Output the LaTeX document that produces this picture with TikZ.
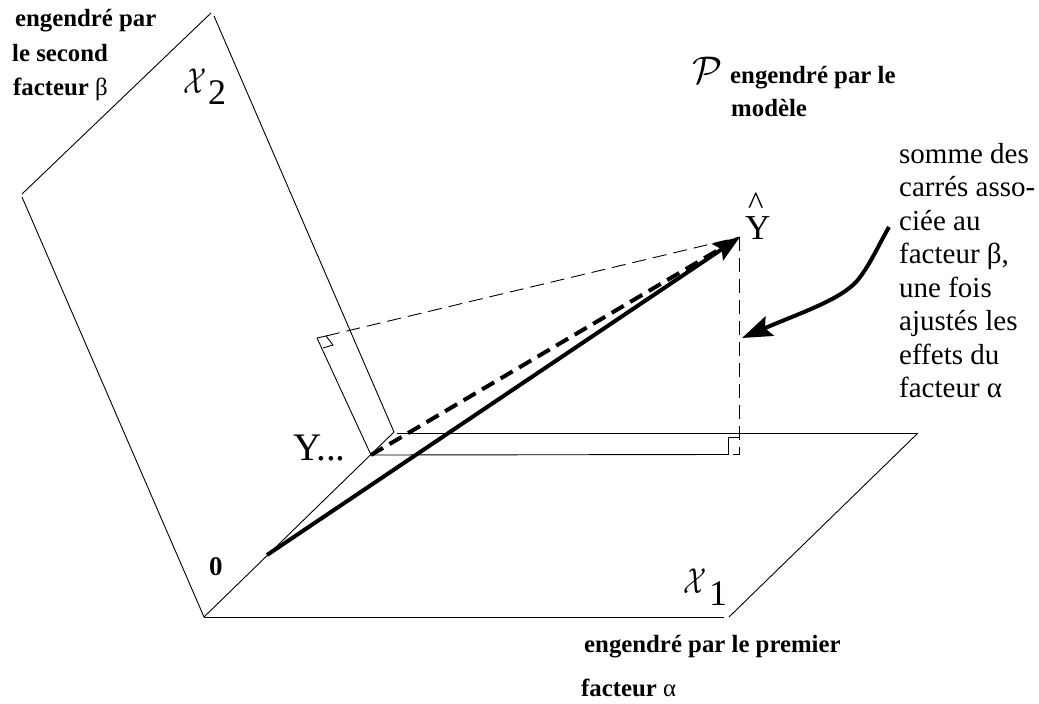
\documentclass[tikz,border=0pt]{standalone}
\usepackage{fontspec}
\setmainfont{Liberation Serif}
\usetikzlibrary{arrows.meta}
\newcommand{\ga}{\textnormal{α}}
\newcommand{\gb}{\textnormal{β}}
\newcommand{\calX}{\scalebox{1.08}[1.45]{$\mathcal{X}$}}
\newcommand{\calP}{\scalebox{1.55}{$\mathcal{P}$}}
\tikzset{
  thinl/.style={line width=0.9pt,black},
  thindash/.style={line width=0.9pt,dash pattern=on 14pt off 7pt},
  thickl/.style={line width=4pt,-{Stealth[length=27pt,width=20pt,inset=5pt]}},
  thickdash/.style={line width=4pt,dash pattern=on 14pt off 7.5pt},
  curvel/.style={line width=4pt,-{Stealth[length=30pt,width=21pt,inset=5pt]}},
  bold/.style={font=\fontsize{24.8}{28}\selectfont\bfseries,anchor=base west,inner sep=0pt},
  zerolab/.style={font=\fontsize{27}{28}\selectfont\bfseries,anchor=base west,inner sep=0pt},
  body/.style={font=\fontsize{29}{33.5}\selectfont,anchor=base west,inner sep=0pt,align=left},
  sym/.style={anchor=base west,inner sep=0pt,font=\fontsize{24.88}{30}\selectfont},
  digit/.style={anchor=base west,inner sep=0pt,font=\fontsize{36}{36}\selectfont},
  ylab/.style={anchor=base west,inner sep=0pt,font=\fontsize{39}{39}\selectfont},
  yhatlab/.style={anchor=base west,inner sep=0pt,font=\fontsize{35}{35}\selectfont}
}
\begin{document}
\begin{tikzpicture}[x=1pt,y=-1pt]
\useasboundingbox (0,0) rectangle (1039,704);
% plane corners
\coordinate (O) at (204,617);
\coordinate (Xone) at (724,617);
\coordinate (Xoneb) at (729,617);
\coordinate (Bb) at (918,433);
\coordinate (Bc) at (397,433);
\coordinate (Ba) at (394,432);
\coordinate (La) at (22,197);
\coordinate (Lb) at (22,194);
\coordinate (Ta) at (211,13);
\coordinate (Tb) at (214,16);
\coordinate (Ybar) at (371,455);
\coordinate (Foot) at (317,338);
\coordinate (Fa) at (326,336);
\coordinate (Fb) at (333,345);
\coordinate (Fc) at (323,348);
\coordinate (Yh) at (740,237);
\coordinate (Vt) at (739.5,237);
\coordinate (Vb) at (739.5,454.5);
\coordinate (Ha) at (728,454.5);
\coordinate (Hb) at (728,437);
\coordinate (Hc) at (739.5,437);
\coordinate (Start) at (267,555);
\coordinate (Yd) at (730,243);
\coordinate (Ca) at (889,227);
\coordinate (Cb) at (742,338);
% planes
\draw[thinl] (O) -- (Xone);
\draw[thinl] (Xoneb) -- (Bb);
\draw[thinl] (Bb) -- (Bc);
\draw[thinl] (O) -- (Ba);
\draw[thinl] (O) -- (La);
\draw[thinl] (Lb) -- (Ta);
\draw[thinl] (Tb) -- (Ba);
% projections
\draw[thinl] (Ybar) -- (Ha);
\draw[thinl] (Ybar) -- (Foot);
\draw[thinl] (Foot) -- (Fa) -- (Fb) -- (Fc);
\draw[thinl] (Ha) -- (Hb) -- (Hc);
\draw[thindash] (Fa) -- (Yh);
\draw[thindash] (Vt) -- (Vb) -- (Ha);
% vectors
\draw[thickl] (Start) -- (Yh);
\draw[thickdash] (Ybar) -- (Yd);
\draw[curvel]
  (Ca) .. controls (877,248) and (870,265) .. (857,281)
       .. controls (840,300) and (800,313) .. (Cb);
% labels
\node[bold] (lb1) at (15,26) {engendré par};
\node[bold] (lb2) at (12,61) {le second};
\node[bold] (lb3) at (13,95) {facteur \gb};
\node[bold] (lp1) at (730,83) {engendré par le};
\node[bold] (lp2) at (731,116) {modèle};
\node[bold] (la1) at (584,652) {engendré par le premier};
\node[bold] (la2) at (581,696) {facteur \ga};
\node[zerolab] (zero) at (209,575) {0};
\node[sym] (P) at (692,83) {\calP};
\node[sym] (X2) at (183,93) {\calX};
\node[digit] (X2s) at (208,104) {2};
\node[sym] (X1) at (683,593) {\calX};
\node[digit] (X1s) at (709,605) {1};
\node[yhatlab] (Ynode) at (745,239) {\rlap{\hspace{3pt}\raisebox{25pt}{\fontsize{33}{33}\selectfont\^{}}}Y};
\node[ylab] (Ybarl) at (293,460) {Y...};
\node[body] (txt) at (899,397.5) {somme des\\carrés asso-\\ciée au\\facteur \gb,\\une fois\\ajustés les\\effets du\\facteur \ga};
\end{tikzpicture}
\end{document}
